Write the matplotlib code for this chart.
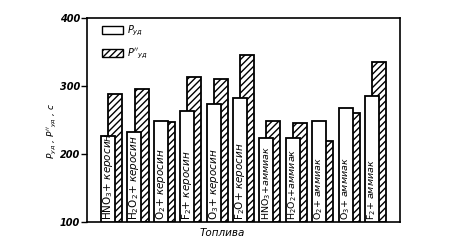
import matplotlib

matplotlib.use("Agg")
import matplotlib.pyplot as plt
from matplotlib.patches import Patch
import numpy as np

# fuel pairs (oxidizer + fuel)
fuels = [
    r"$\mathrm{HNO_3}$+ керосин",
    r"$\mathrm{H_2O_2}$+ керосин",
    r"$\mathrm{O_2}$+ керосин",
    r"$\mathrm{F_2}$+ керосин",
    r"$\mathrm{O_3}$+ керосин",
    r"$\mathrm{F_2O}$+ керосин",
    r"$\mathrm{HNO_3}$+аммиак",
    r"$\mathrm{H_2O_2}$+аммиак",
    r"$\mathrm{O_2}$+ аммиак",
    r"$\mathrm{O_3}$+ аммиак",
    r"$\mathrm{F_2}$+ аммиак",
]
p_ud = [227, 232, 249, 264, 274, 283, 223, 224, 248, 267, 286]
p_ud2 = [288, 296, 247, 313, 311, 346, 249, 246, 219, 260, 335]
yticks = [100, 200, 300, 400]

plt.rcParams["hatch.linewidth"] = 1.0
fig = plt.figure(figsize=(4.52, 2.41), dpi=100)
ax = fig.add_axes([0.1925, 0.079, 0.6925, 0.846])

x = np.arange(len(fuels))
w = 0.53
base = 100
ax.bar(x - 0.13, np.array(p_ud2) - base, width=w, bottom=base, align="edge",
       facecolor="white", edgecolor="black", hatch="/////", linewidth=1.3, zorder=2)
ax.bar(x - 0.4, np.array(p_ud) - base, width=w, bottom=base, align="edge",
       facecolor="white", edgecolor="black", linewidth=1.3, zorder=3)

for i, (xi, lab) in enumerate(zip(x, fuels)):
    fs = 7.5 if i < 6 else 6.8
    ax.text(xi - 0.4 + w / 2, base + 3, lab, rotation=90, ha="center", va="bottom",
            fontsize=fs, style="italic", zorder=4)

ax.set_xlim(-0.93, 10.93)
ax.set_ylim(100, 400)
ax.set_xticks([])
ax.set_yticks(yticks)
ax.set_yticklabels([str(v) for v in yticks], fontsize=7, fontweight="bold", style="italic")
ax.tick_params(axis="y", direction="out", length=4, width=1, pad=1)
for s in ax.spines.values():
    s.set_linewidth(1.2)

handles = [
    Patch(facecolor="white", edgecolor="black", linewidth=1.0),
    Patch(facecolor="white", edgecolor="black", hatch="/////", linewidth=1.0),
]
ax.legend(handles, [r"$P_{уд}$", r"$P''_{уд}$"], loc="upper left", bbox_to_anchor=(0.02, 1.015),
          frameon=False, fontsize=7, handlelength=2.2, handleheight=0.9, labelspacing=0.9,
          handletextpad=0.4)

fig.text(52 / 452, 1 - 131 / 241, r"$P_{уд}$ , $P''_{уд}$ , с", rotation=90, ha="center",
         va="center", fontsize=6.5, style="italic")
fig.text(222 / 452, 1 - 233 / 241, "Топлива", ha="center", va="center", fontsize=7.5, style="italic")

fig.savefig("out.png", dpi=100)
